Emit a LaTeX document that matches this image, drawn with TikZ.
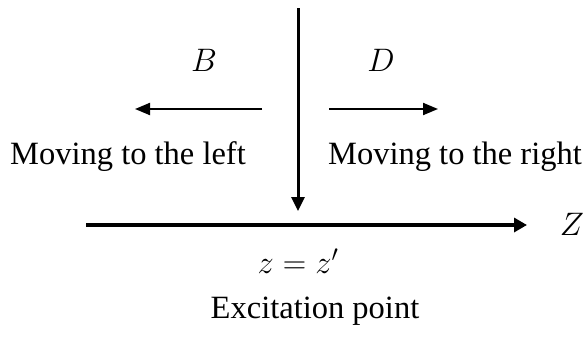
\RequirePackage{fix-cm}
\documentclass[tikz,border=0pt]{standalone}
\usepackage{amsmath}
\usepackage{fontspec}
\setmainfont{Liberation Serif}
\usetikzlibrary{arrows.meta, positioning}

\begin{document}
\begin{tikzpicture}[x=1pt, y=-1pt,
  every node/.style={font=\fontsize{32.5}{38}\selectfont, inner sep=0pt, anchor=base},
  wavearrow/.style={line width=2pt, -{Triangle[length=15pt, width=12pt]}},
  axisarrow/.style={line width=4pt, -{Triangle[length=13pt, width=14pt]}},
  feedarrow/.style={line width=3pt, -{Triangle[length=14pt, width=13pt]}}]
\useasboundingbox (0,0) rectangle (584,338);
% excitation feed from above
\coordinate (feedtop) at (298,8);
\coordinate (excpt) at (298,211);
\draw[feedarrow] (feedtop) -- (excpt);
% z axis
\coordinate (zstart) at (86,225);
\coordinate (zend) at (527,225);
\draw[axisarrow] (zstart) -- (zend);
\node (Zlab) at ([xshift=45pt, yshift=-10pt]zend) {$Z$};
% waves
\coordinate (lstart) at (262,109);
\coordinate (lend) at (135,109);
\coordinate (rstart) at (329,109);
\coordinate (rend) at (438,109);
\draw[wavearrow] (lstart) -- (lend);
\draw[wavearrow] (rstart) -- (rend);
\node (Blab) at (204,71) {$B$};
\node (Dlab) at (381,71) {$D$};
\node (leftlab) at (128,164) {Moving to the left};
\node (rightlab) at (455,164) {Moving to the right};
% excitation point
\node (zeq) at (298,273) {$z = z'$};
\node (exclab) at (315,318) {Excitation point};
\end{tikzpicture}
\end{document}
